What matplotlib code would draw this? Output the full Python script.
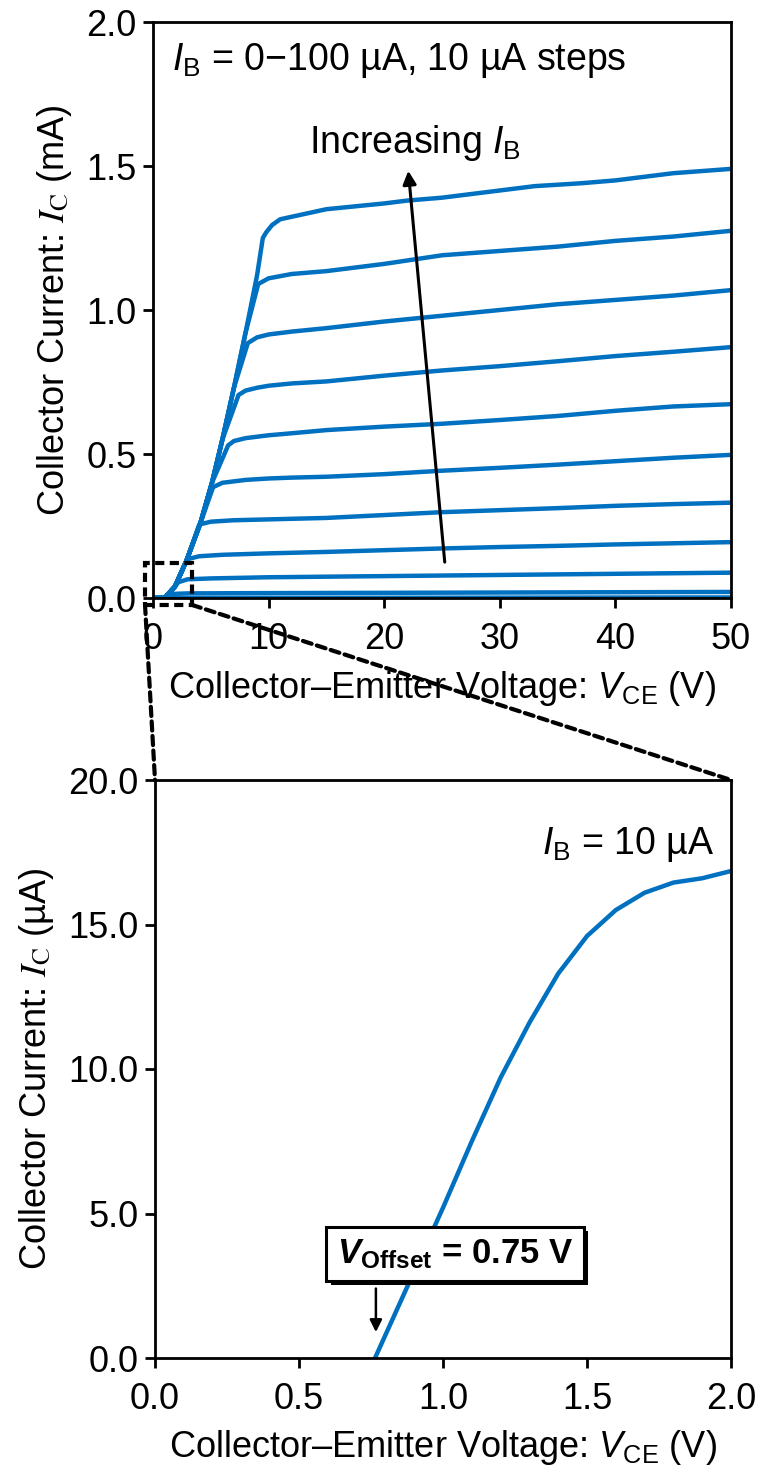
import matplotlib
matplotlib.use('Agg')
import matplotlib.pyplot as plt
import matplotlib.patheffects as pe
from matplotlib.patches import Rectangle, ConnectionPatch

plt.rcParams['font.family'] = 'Liberation Sans'
plt.rcParams['font.size'] = 26
plt.rcParams['mathtext.fontset'] = 'custom'
plt.rcParams['mathtext.rm'] = 'Liberation Sans'
plt.rcParams['mathtext.it'] = 'Liberation Sans:italic'
plt.rcParams['mathtext.bf'] = 'Liberation Sans:bold'
plt.rcParams['mathtext.bfit'] = 'Liberation Sans:bold:italic'
plt.rcParams['mathtext.sf'] = 'Liberation Sans'

BLUE = '#0070C0'

# shared saturation-region rise (V, mA)
rise_v = [0, 1.0, 1.9, 2.9, 4.1, 5.1, 6.0, 7.0, 8.0, 9.0, 9.5]
rise_i = [0, 0.0, 0.04, 0.13, 0.26, 0.40, 0.55, 0.73, 0.92, 1.12, 1.25]

# active-region part of each curve, IB = 0..100 uA
ib_0_v = [0, 50]
ib_0_i = [0, 0.002]
ib_10_v = [1.5, 3, 10, 30, 50]
ib_10_i = [0.014, 0.016, 0.017, 0.019, 0.021]
ib_20_v = [2.2, 3, 5, 10, 20, 30, 40, 50]
ib_20_i = [0.055, 0.065, 0.068, 0.072, 0.076, 0.080, 0.084, 0.088]
ib_30_v = [3.0, 4, 6, 10, 15, 20, 25, 30, 35, 40, 45, 50]
ib_30_i = [0.135, 0.145, 0.150, 0.155, 0.160, 0.166, 0.172, 0.177, 0.181, 0.186, 0.190, 0.194]
ib_40_v = [4.0, 5, 7, 10, 15, 20, 25, 30, 35, 40, 45, 50]
ib_40_i = [0.255, 0.265, 0.270, 0.273, 0.278, 0.288, 0.298, 0.305, 0.312, 0.320, 0.326, 0.331]
ib_50_v = [5.2, 6, 8, 10, 12, 15, 20, 25, 30, 35, 40, 45, 50]
ib_50_i = [0.385, 0.400, 0.410, 0.415, 0.418, 0.421, 0.430, 0.442, 0.452, 0.463, 0.475, 0.487, 0.497]
ib_60_v = [6.5, 7, 8, 10, 12, 15, 20, 25, 30, 35, 40, 45, 50]
ib_60_i = [0.530, 0.545, 0.555, 0.565, 0.572, 0.583, 0.595, 0.605, 0.618, 0.632, 0.650, 0.665, 0.673]
ib_70_v = [7.4, 8, 9, 10, 12, 15, 20, 25, 30, 35, 40, 45, 50]
ib_70_i = [0.705, 0.720, 0.730, 0.737, 0.745, 0.752, 0.772, 0.790, 0.805, 0.822, 0.840, 0.855, 0.871]
ib_80_v = [8.2, 9, 10, 12, 15, 20, 25, 30, 35, 40, 45, 50]
ib_80_i = [0.885, 0.905, 0.915, 0.925, 0.937, 0.960, 0.980, 1.000, 1.020, 1.035, 1.050, 1.069]
ib_90_v = [9.1, 10, 12, 15, 20, 25, 30, 35, 40, 45, 50]
ib_90_i = [1.090, 1.110, 1.125, 1.135, 1.160, 1.190, 1.205, 1.220, 1.240, 1.255, 1.275]
ib_100_v = [9.8, 10.3, 11, 15, 20, 22, 25, 30, 33, 37, 40, 45, 50]
ib_100_i = [1.270, 1.295, 1.315, 1.350, 1.370, 1.380, 1.390, 1.415, 1.430, 1.440, 1.450, 1.475, 1.490]

curves_v = [ib_0_v, ib_10_v, ib_20_v, ib_30_v, ib_40_v, ib_50_v,
            ib_60_v, ib_70_v, ib_80_v, ib_90_v, ib_100_v]
curves_i = [ib_0_i, ib_10_i, ib_20_i, ib_30_i, ib_40_i, ib_50_i,
            ib_60_i, ib_70_i, ib_80_i, ib_90_i, ib_100_i]

# zoomed curve, IB = 10 uA (V, uA)
zoom_v = [0.764, 1.0, 1.1, 1.2, 1.3, 1.4, 1.5, 1.6, 1.7, 1.8, 1.9, 2.0]
zoom_i = [0.0, 5.2, 7.5, 9.7, 11.6, 13.3, 14.6, 15.5, 16.1, 16.45, 16.6, 16.85]

W, H = 759, 1467
fig = plt.figure(figsize=(W / 100, H / 100), dpi=100)
ax1 = fig.add_axes([153 / W, 1 - 598 / H, 578 / W, 576 / H])
ax2 = fig.add_axes([155 / W, 1 - 1358 / H, 576 / W, 578 / H])

for ax in (ax1, ax2):
    for s in ax.spines.values():
        s.set_linewidth(2.0)
    ax.tick_params(direction='out', length=7, width=2.0, labelsize=26, pad=5)
    ax.tick_params(axis='x', pad=10)

# top panel
for v, i in zip(curves_v, curves_i):
    xs = [rv for rv, ri in zip(rise_v, rise_i) if ri < i[0]] + v
    ys = [ri for ri in rise_i if ri < i[0]] + i
    ax1.plot(xs, ys, color=BLUE, lw=3.2, solid_capstyle='butt', solid_joinstyle='round')

ax1.set_xlim(0, 50)
ax1.set_ylim(0, 2.0)
ax1.set_xticks([0, 10, 20, 30, 40, 50])
ax1.set_yticks([0.0, 0.5, 1.0, 1.5, 2.0])
ax1.set_yticklabels(['0.0', '0.5', '1.0', '1.5', '2.0'])
ax1.set_xlabel(r'Collector–Emitter Voltage: $V_{\mathrm{CE}}$ (V)', fontsize=26, labelpad=9)
ax1.set_ylabel(r'Collector Current: $\mathit{I}_{\mathrm{C}}$ (mA)', fontsize=26, labelpad=9,
               math_fontfamily='stix')

ax1.text(0.033, 0.934, r'$I_{\mathrm{B}}$ = 0−100 µA, 10 µA steps', transform=ax1.transAxes,
         ha='left', va='center', fontsize=27)
ax1.text(22.7, 1.58, r'Increasing $I_{\mathrm{B}}$', ha='center', va='center', fontsize=27)
ax1.annotate('', xy=(22.06, 1.493), xytext=(25.26, 0.115),
             arrowprops=dict(arrowstyle='-|>', color='black', lw=2.2, mutation_scale=20))

# dashed zoom box and connectors
box = Rectangle((-0.69, -0.024), 4.06, 0.1455, fill=False, ls=(0, (2.2, 1.3)),
                lw=3.0, ec='black', clip_on=False, zorder=5)
ax1.add_patch(box)

# bottom panel
ax2.plot(zoom_v, zoom_i, color=BLUE, lw=3.2)
ax2.set_xlim(0, 2.0)
ax2.set_ylim(0, 20.0)
ax2.set_xticks([0.0, 0.5, 1.0, 1.5, 2.0])
ax2.set_xticklabels(['0.0', '0.5', '1.0', '1.5', '2.0'])
ax2.set_yticks([0, 5, 10, 15, 20])
ax2.set_yticklabels(['0.0', '5.0', '10.0', '15.0', '20.0'])
ax2.set_xlabel(r'Collector–Emitter Voltage: $V_{\mathrm{CE}}$ (V)', fontsize=26, labelpad=8)
ax2.set_ylabel(r'Collector Current: $\mathit{I}_{\mathrm{C}}$ (µA)', fontsize=26, labelpad=9,
               math_fontfamily='stix')
ax2.text(0.972, 0.888, r'$I_{\mathrm{B}}$ = 10 µA', transform=ax2.transAxes,
         ha='right', va='center', fontsize=27)

t = ax2.text(1.042, 3.6, r'$\mathbfit{V}_{\mathbf{Offset}}$ = 0.75 V', ha='center', va='center',
             fontsize=25, fontweight='bold', zorder=6,
             bbox=dict(boxstyle='square,pad=0.3', fc='white', ec='black', lw=2.2))
t.get_bbox_patch().set_path_effects([pe.withSimplePatchShadow(offset=(3, -3), shadow_rgbFace='black', alpha=1)])
ax2.annotate('', xy=(0.767, 0.8), xytext=(0.767, 2.5),
             arrowprops=dict(arrowstyle='-|>', color='black', lw=1.8, mutation_scale=18))

for xa, xb in [(-0.69, 0.0), (3.37, 2.0)]:
    con = ConnectionPatch(xyA=(xa, -0.024), coordsA=ax1.transData,
                          xyB=(xb, 20.0), coordsB=ax2.transData,
                          ls=(0, (2.2, 1.3)), lw=3.0, color='black', zorder=5)
    fig.add_artist(con)

fig.savefig('out.png', dpi=100)
